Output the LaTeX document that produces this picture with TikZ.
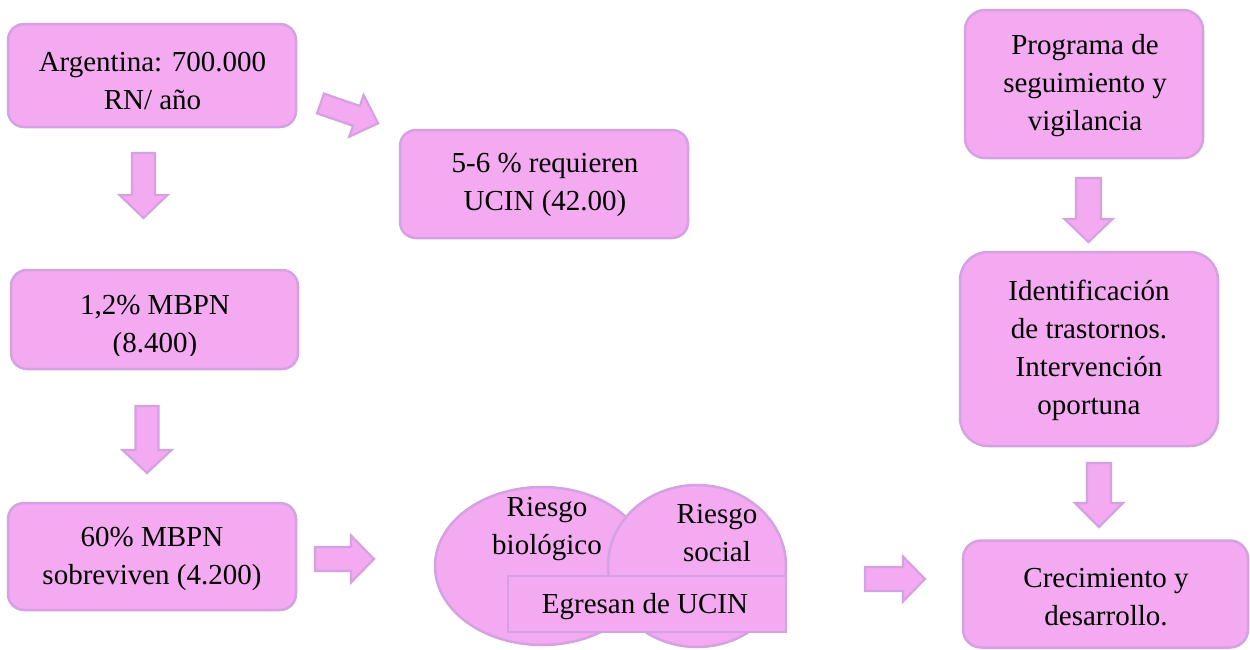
\documentclass[tikz,border=0pt]{standalone}
\usepackage{fontspec}
\setmainfont{LiberationSerif}[Extension=.ttf, UprightFont=*-Regular, BoldFont=*-Bold]
\definecolor{pinkfill}{HTML}{F4AAF0}
\definecolor{lilac}{HTML}{D4A2E2}
\newcommand{\blockarr}[7]{%
  \draw[barrowstyle, shift={#2}, rotate=#3] (0,-#5/2) -- ({#4-#7},-#5/2) -- ({#4-#7},-#6/2) -- (#4,0) -- ({#4-#7},#6/2) -- ({#4-#7},#5/2) -- (0,#5/2) -- cycle;%
  \coordinate (#1) at #2;}
\begin{document}
\begin{tikzpicture}[x=1pt,y=1pt,
  box/.style={draw=lilac, fill=pinkfill, line width=2.5pt, rounded corners=#1},
  box/.default=16pt,
  txt/.style={align=center, inner sep=0pt, font=\fontsize{29}{38}\selectfont},
  barrowstyle/.style={draw=lilac, fill=pinkfill, line width=2.2pt, line join=miter}]
\useasboundingbox (0,0) rectangle (1250,-649);

% left column boxes
\node[box, minimum width=288pt, minimum height=103pt] (a) at (152,-75.5) {};
\node[txt] (at) at (152.5,-81) {Argentina: 700.000\\RN/ año};

\node[box, minimum width=288pt, minimum height=108pt] (b) at (544,-184) {};
\node[txt] (bt) at (545,-185) {5-6 \% requieren\\UCIN (42.00)};

\node[box, minimum width=287pt, minimum height=99pt] (c) at (154.5,-319.5) {};
\begin{scope}
\clip (0,-260) rectangle (400,-355);
\node[txt] (ct) at (155,-327) {1,2\% MBPN\\(8.400)};
\end{scope}

\node[box, minimum width=288pt, minimum height=107pt] (d) at (152,-556.5) {};
\node[txt] (dt) at (152,-559) {60\% MBPN\\sobreviven (4.200)};

% overlapping risk ellipses
\draw[draw=lilac, fill=pinkfill, line width=2.5pt] (542,-566) ellipse [x radius=107, y radius=79];
\node[txt] (bio) at (547,-529) {Riesgo\\biológico};
\draw[draw=lilac, fill=pinkfill, line width=2.5pt] (697,-566) ellipse [x radius=89, y radius=81];
\node[txt] (soc) at (717,-533) {Riesgo\\social};
\node[box=0pt, minimum width=278pt, minimum height=56pt] (eg) at (647,-604) {};
\node[txt] (egt) at (645,-606.5) {Egresan de UCIN};

% right column boxes
\node[box=20pt, minimum width=238pt, minimum height=148pt] (e) at (1084,-84) {};
\node[txt] (et) at (1085,-86) {Programa de\\seguimiento y\\vigilancia};

\node[box=28pt, minimum width=258pt, minimum height=194pt] (f) at (1089,-349) {};
\node[txt] (ft) at (1089,-350) {Identificación\\de trastornos.\\Intervención\\oportuna};

\node[box=18pt, minimum width=285pt, minimum height=107pt] (g) at (1105.5,-594) {};
\node[txt] (gt) at (1106,-597) {Crecimiento y\\desarrollo.};

% block arrows
\blockarr{ac}{(143.5,-153)}{-90}{65}{23}{48}{23}
\blockarr{cd}{(147,-406)}{-90}{67}{23}{49}{23}
\blockarr{ab}{(320.5,-103.5)}{-19}{61}{21}{44}{23}
\blockarr{dr}{(315,-559)}{0}{59}{24}{47}{23}
\blockarr{rg}{(865,-579)}{0}{60}{24}{45}{22}
\blockarr{ef}{(1088.5,-178)}{-90}{64}{25}{48}{23}
\blockarr{fg}{(1099,-463)}{-90}{64}{24}{48}{24}
\end{tikzpicture}
\end{document}
